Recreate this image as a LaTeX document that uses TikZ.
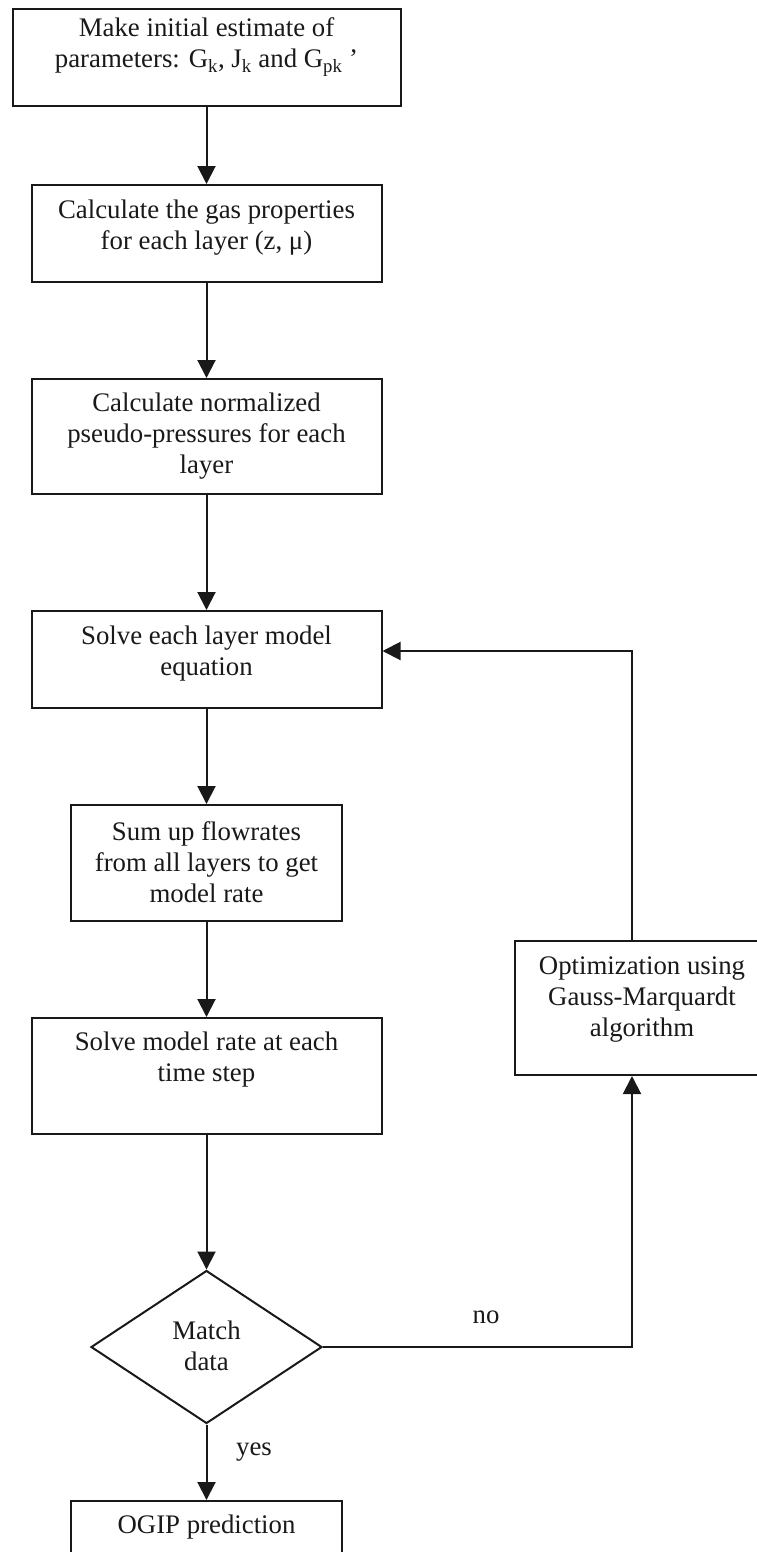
\documentclass[tikz,border=0pt]{standalone}
\usepackage{fontspec}
\setmainfont{Liberation Serif}
\usetikzlibrary{arrows.meta,shapes.geometric}
\begin{document}
\begin{tikzpicture}[x=1pt,y=-1pt,
  flowbox/.style={draw=black!90, line width=2pt, inner sep=0pt},
  decision/.style={diamond, draw=black!90, line width=2pt, inner sep=0pt, aspect=1.5},
  txt/.style={align=center, font=\fontsize{26.8pt}{31pt}\selectfont, inner sep=0pt, text=black!90},
  arr/.style={draw=black!90, line width=2pt, -{Triangle[length=18pt,width=18pt]}},
]
\useasboundingbox[fill=white] (0,0) rectangle (756,1552);

% boxes
\node[flowbox, minimum width=388pt, minimum height=97pt] (b1) at (206.5,57.5) {};
\node[txt] (t1) at (206.5,47) {Make initial estimate of\\parameters: G\textsubscript{k}, J\textsubscript{k} and G\textsubscript{pk} ’};

\node[flowbox, minimum width=350pt, minimum height=97pt] (b2) at (206.5,233.5) {};
\node[txt] (t2) at (206.5,227.5) {Calculate the gas properties\\for each layer (z, μ)};

\node[flowbox, minimum width=350pt, minimum height=115pt] (b3) at (206.5,436.5) {};
\node[txt] (t3) at (206.5,436) {Calculate normalized\\pseudo-pressures for each\\layer};

\node[flowbox, minimum width=350pt, minimum height=97pt] (b4) at (206.5,659.5) {};
\node[txt] (t4) at (206.5,654) {Solve each layer model\\equation};

\node[flowbox, minimum width=271pt, minimum height=116pt] (b5) at (206.5,863) {};
\node[txt] (t5) at (206.5,862) {Sum up flowrates\\from all layers to get\\model rate};

\node[flowbox, minimum width=350pt, minimum height=116pt] (b6) at (206.5,1076) {};
\node[txt] (t6) at (206.5,1060) {Solve model rate at each\\time step};

\node[flowbox, minimum width=254pt, minimum height=134pt] (opt) at (642,1008) {};
\node[txt] (t7) at (642,1000) {Optimization using\\Gauss-Marquardt\\algorithm};

\node[decision, minimum width=231pt, minimum height=153pt] (d) at (206.5,1347) {};
\node[txt] (t8) at (206.5,1346) {Match\\data};

\node[flowbox, minimum width=271pt, minimum height=72pt] (ogip) at (206.5,1537) {};
\node[txt] (t9) at (206.5,1527) {OGIP prediction};

% labels
\node[txt] (no) at (486,1317) {no};
\node[txt] (yes) at (254,1452) {yes};

% connectors
\draw[arr] (b1) -- (b2);
\draw[arr] (b2) -- (b3);
\draw[arr] (b3) -- (b4);
\draw[arr] (b4) -- (b5);
\draw[arr] (b5) -- (b6);
\draw[arr] (b6) -- (d);
\draw[arr] (d) -- (ogip);

\coordinate (c1) at (632,1347);
\coordinate (c2) at (632,651);
\draw[arr] (d.east) -- (c1) -- (c1 |- opt.south);
\draw[arr] (c2 |- opt.north) -- (c2) -- (c2 -| b4.east);
\end{tikzpicture}
\end{document}
